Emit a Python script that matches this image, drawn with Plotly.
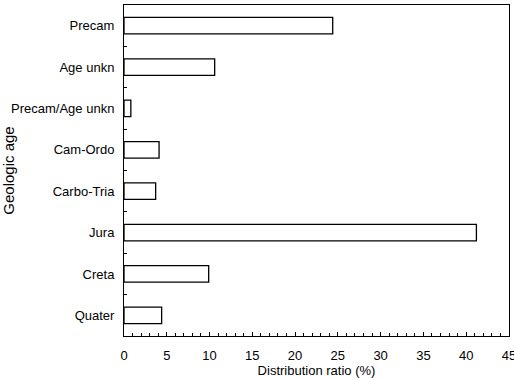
import plotly.graph_objects as go

categories = ["Precam", "Age unkn", "Precam/Age unkn", "Cam-Ordo",
              "Carbo-Tria", "Jura", "Creta", "Quater"]
values = [24.4, 10.6, 0.8, 4.1, 3.7, 41.2, 9.9, 4.4]
x_ticks = [0, 5, 10, 15, 20, 25, 30, 35, 40, 45]

font = "Liberation Sans, Arial, sans-serif"

fig = go.Figure(go.Bar(
    x=values, y=categories, orientation="h",
    width=0.4,
    marker=dict(color="white", line=dict(color="black", width=1.3)),
))

fig.update_layout(
    width=514, height=378,
    margin=dict(l=124, r=5, t=5, b=42),
    paper_bgcolor="white", plot_bgcolor="white",
    font=dict(family=font, size=13, color="black"),
    showlegend=False,
    xaxis=dict(
        range=[0, 45.01], tickvals=x_ticks, ticks="inside", ticklen=4,
        tickcolor="black", showgrid=False, zeroline=False, automargin=False,
        showline=True, linecolor="black", linewidth=1, mirror=True,
        minor=dict(dtick=1, ticks="inside", ticklen=3, tickcolor="black", showgrid=False),
        title=dict(text="Distribution ratio (%)", standoff=4, font=dict(size=13)),
        tickfont=dict(size=13), ticklabelstandoff=7, ticklabeloverflow="allow",
    ),
    yaxis=dict(
        categoryorder="array", categoryarray=categories, autorange="reversed",
        ticks="inside", tickson="boundaries", ticklen=3, tickcolor="black",
        showgrid=False, zeroline=False, automargin=False,
        showline=True, linecolor="black", linewidth=1, mirror=True,
        title=dict(text="Geologic age", standoff=4, font=dict(size=15)),
        tickfont=dict(size=13), ticklabelstandoff=6,
    ),
)

post = ("document.body.style.margin='0';document.body.style.overflow='hidden';"
        "Plotly.relayout(document.getElementById('{plot_id}'),{width:514,height:378});")

fig.write_html("out.html", post_script=post, config={"displayModeBar": False})
